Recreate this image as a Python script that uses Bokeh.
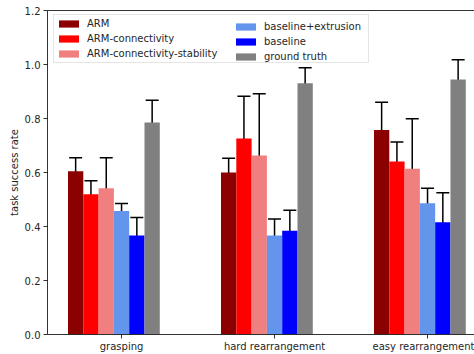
from bokeh.plotting import figure
from bokeh.models import (Range1d, FixedTicker, PrintfTickFormatter, Legend, LegendItem,
                          Whisker, TeeHead, ColumnDataSource, LinearAxis)
from bokeh.embed import file_html
from bokeh.resources import INLINE

categories = ["grasping", "hard rearrangement", "easy rearrangement"]
methods = ["ARM", "ARM-connectivity", "ARM-connectivity-stability",
           "baseline+extrusion", "baseline", "ground truth"]
colors = ["#8b0000", "#ff0000", "#f08080", "#6495ed", "#0000ff", "#808080"]

arm_mean = [0.605, 0.600, 0.757]
arm_lo = [0.559, 0.544, 0.654]
arm_hi = [0.655, 0.653, 0.860]

armc_mean = [0.519, 0.726, 0.641]
armc_lo = [0.466, 0.569, 0.569]
armc_hi = [0.569, 0.882, 0.713]

armcs_mean = [0.542, 0.663, 0.614]
armcs_lo = [0.428, 0.428, 0.428]
armcs_hi = [0.655, 0.892, 0.799]

bext_mean = [0.457, 0.367, 0.486]
bext_lo = [0.428, 0.309, 0.428]
bext_hi = [0.485, 0.428, 0.542]

base_mean = [0.367, 0.384, 0.416]
base_lo = [0.302, 0.302, 0.302]
base_hi = [0.433, 0.460, 0.525]

gt_mean = [0.785, 0.931, 0.944]
gt_lo = [0.702, 0.868, 0.868]
gt_hi = [0.868, 0.988, 1.018]

y_ticks = [0.0, 0.2, 0.4, 0.6, 0.8, 1.0, 1.2]

series = [
    (arm_mean, arm_lo, arm_hi),
    (armc_mean, armc_lo, armc_hi),
    (armcs_mean, armcs_lo, armcs_hi),
    (bext_mean, bext_lo, bext_hi),
    (base_mean, base_lo, base_hi),
    (gt_mean, gt_lo, gt_hi),
]

FONT = "DejaVu Sans"
TXT = "#262626"
bar_w = 0.1

p = figure(width=474, height=354, output_backend="svg", toolbar_location=None,
           x_range=Range1d(-0.484, 2.307), y_range=Range1d(0, 1.2),
           min_border_left=47, min_border_top=10, min_border_bottom=19, min_border_right=0)
p.outline_line_color = None
p.grid.visible = False
p.background_fill_color = "white"

items = []
for i, (m, c, (mean, lo, hi)) in enumerate(zip(methods, colors, series)):
    xs = [j + (i - 3) * bar_w for j in range(len(categories))]
    src = ColumnDataSource(dict(x=xs, top=mean, lower=lo, upper=hi))
    r = p.vbar(x="x", top="top", width=bar_w, source=src, fill_color=c, line_color=None)
    items.append(LegendItem(label=m, renderers=[r]))
    w = Whisker(source=src, base="x", upper="upper", lower="lower", dimension="height",
                line_color="black", line_width=1.5,
                upper_head=TeeHead(size=13, line_color="black", line_width=1.5),
                lower_head=TeeHead(size=13, line_color="black", line_width=1.5))
    p.add_layout(w)

# axes
xa = p.xaxis[0]
xa.ticker = FixedTicker(ticks=list(range(len(categories))))
xa.major_label_overrides = {j: c for j, c in enumerate(categories)}
ya = p.yaxis[0]
ya.ticker = FixedTicker(ticks=y_ticks)
ya.formatter = PrintfTickFormatter(format="%.1f")
ya.axis_label = "task success rate"
ya.axis_label_text_font_style = "normal"
ya.axis_label_text_font_size = "10px"
ya.axis_label_text_font = FONT
ya.axis_label_text_color = TXT
ya.axis_label_standoff = 2
for ax in (xa, ya):
    ax.axis_line_color = "black"
    ax.axis_line_width = 0.8
    ax.major_tick_line_color = "black"
    ax.major_tick_line_width = 0.8
    ax.major_tick_out = 4
    ax.major_tick_in = 0
    ax.minor_tick_line_color = None
    ax.major_label_text_font_size = "10px"
    ax.major_label_text_font = FONT
    ax.major_label_text_color = TXT
    ax.major_label_standoff = 3
xa.major_label_standoff = 2

top_ax = LinearAxis(ticker=FixedTicker(ticks=[]), major_label_text_font_size="0px",
                    axis_line_color="black", axis_line_width=0.8,
                    major_tick_out=0, major_tick_in=0, minor_tick_out=0, minor_tick_in=0,
                    major_label_standoff=0)
p.add_layout(top_ax, "above")

common = dict(padding=2, spacing=2, label_height=13, glyph_height=9, glyph_width=25,
              label_standoff=6, label_text_font_size="10px", label_text_font=FONT,
              label_text_color=TXT, margin=0)
leg1 = Legend(items=items[:3], location=(6, 271), label_width=279,
              border_line_color="#cccccc", border_line_width=1,
              background_fill_color="white", background_fill_alpha=0.8, **common)
leg2 = Legend(items=items[3:], location=(186, 271),
              border_line_color=None, background_fill_alpha=0.0, **common)
p.add_layout(leg1, "center")
p.add_layout(leg2, "center")

open("out.html", "w").write(file_html(p, INLINE))
